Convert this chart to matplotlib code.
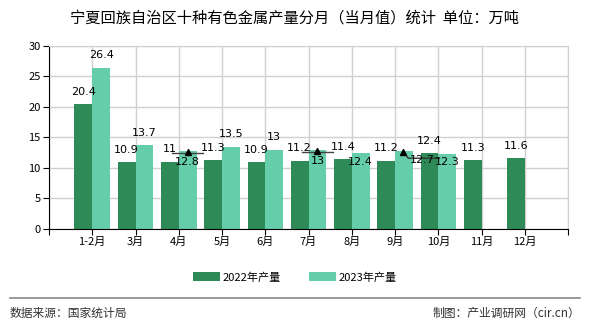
#importing modules
import numpy as np
import matplotlib
matplotlib.use('Agg')
import matplotlib.pyplot as plt
from matplotlib.lines import Line2D

plt.rcParams['font.family'] = ['Noto Sans CJK SC', 'DejaVu Sans']

months = ['1-2月', '3月', '4月', '5月', '6月', '7月', '8月', '9月', '10月', '11月', '12月']
y2022 = [20.4, 10.9, 11, 11.3, 10.9, 11.2, 11.4, 11.2, 12.4, 11.3, 11.6]
y2023 = [26.4, 13.7, 12.8, 13.5, 13, 13, 12.4, 12.7, 12.3]
labels2023 = ['26.4', '13.7', '12.8', '13.5', '13', '13', '12.4', '12.7', '12.3']

dark = '#2e8b57'
light = '#66cdaa'

fig = plt.figure(figsize=(5.9, 3.3), dpi=100)
ax = fig.add_axes([0.083, 0.306, 0.88, 0.555])

x = np.arange(len(months))
w = 0.41
ax.bar(x[:len(y2022)] - w / 2, y2022, w, color=dark, label='2022年产量', zorder=2)
ax.bar(x[:len(y2023)] + w / 2, y2023, w, color=light, label='2023年产量', zorder=2)

# value labels (some 2023 ones pushed inside the bar like the original)
for i, v in enumerate(y2022):
    ax.annotate(str(v), (x[i] - w / 2, v), xytext=(0, 9), textcoords='offset points',
                ha='center', va='center', fontsize=8, family='DejaVu Sans', zorder=4)
inside = {2: (0, -8), 5: (0, -8), 6: (0, -6), 7: (13, -6), 8: (0, -6)}
for i, v in enumerate(y2023):
    off = inside.get(i, (0, 9))
    ax.annotate(labels2023[i], (x[i] + w / 2, v), xytext=off, textcoords='offset points',
                ha='center', va='center', fontsize=8, family='DejaVu Sans', zorder=4)

# little leader marks
for i in [2, 5]:
    xc = x[i] + w / 2
    ax.plot([xc - 0.35, xc + 0.35], [y2023[i] - 0.4, y2023[i] - 0.4], color='#444444', lw=1, zorder=3)
    ax.plot([xc], [y2023[i] - 0.15], marker='^', color='black', ms=5, zorder=3)
xc = x[7] + w / 2
ax.plot([xc - 0.02, xc + 0.1, xc + 0.82], [y2023[7], y2023[7] - 1.1, y2023[7] - 1.1],
        color='#333333', lw=1, zorder=3)
ax.plot([xc - 0.02], [y2023[7] - 0.1], marker='^', color='black', ms=5, zorder=3)

ax.set_xlim(-1, len(months))
ax.set_ylim(0, 30)
ax.set_yticks(range(0, 31, 5))
ax.set_xticks(np.arange(-1, len(months) + 1))
ax.set_xticklabels([''] + months + [''])
ax.tick_params(axis='both', labelsize=8, length=4, color='black', pad=2)
ax.grid(True, color='#d0d0d0', lw=1, zorder=0)
for s in ['top', 'right']:
    ax.spines[s].set_color('#d0d0d0')
for s in ['left', 'bottom']:
    ax.spines[s].set_color('black')

fig.text(0.5, 0.945, '宁夏回族自治区十种有色金属产量分月（当月值）统计  单位：万吨',
         ha='center', va='center', fontsize=11)

fig.legend(loc='center', bbox_to_anchor=(0.5, 0.16), ncol=2, frameon=False, fontsize=8,
           handlelength=2.4, handleheight=0.8, columnspacing=2.5, handletextpad=0.3)

fig.add_artist(Line2D([0.017, 0.983], [0.097, 0.097], color='#888888', lw=1.2))
fig.text(0.017, 0.05, '数据来源：国家统计局', ha='left', va='center', fontsize=8.5, color='#333333')
fig.text(0.983, 0.05, '制图：产业调研网（cir.cn）', ha='right', va='center', fontsize=8.5, color='#333333')

fig.savefig('out.png', dpi=100)
